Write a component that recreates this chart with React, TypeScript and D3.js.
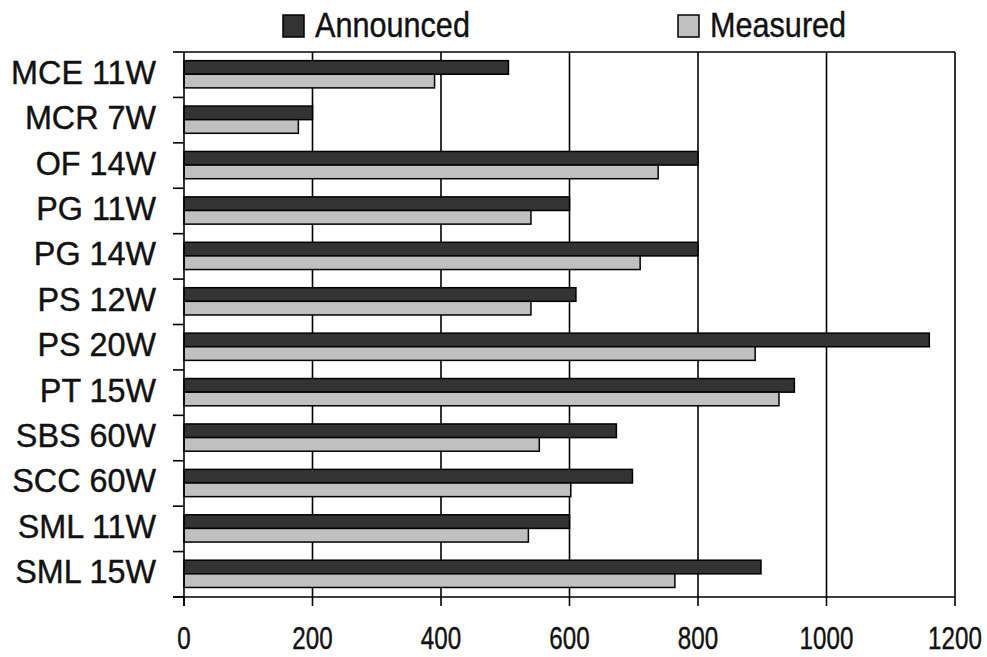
import React from "react";
import * as d3 from "d3";

const categories = ["MCE 11W", "MCR 7W", "OF 14W", "PG 11W", "PG 14W", "PS 12W", "PS 20W", "PT 15W", "SBS 60W", "SCC 60W", "SML 11W", "SML 15W"];
const announced = [505, 200, 800, 600, 800, 610, 1160, 950, 673, 698, 600, 898];
const measured = [390, 178, 738, 540, 710, 540, 889, 926, 553, 602, 536, 764];
const seriesNames = ["Announced", "Measured"];
const seriesColors = ["#333333", "#c0c0c0"];
const xTicks = [0, 200, 400, 600, 800, 1000, 1200];

const W = 987, H = 657;
const left = 184, right = 955, top = 52, bottom = 597;
const FONT = "'Liberation Sans', Arial, sans-serif";

export default function App() {
  const x = d3.scaleLinear().domain([0, 1200]).range([left, right]);
  const y = d3.scaleBand<string>().domain(categories).range([top, bottom]).padding(0);
  const bw = y.bandwidth();
  const inner = d3.scaleBand<number>().domain([0, 1]).range([bw * 0.19, bw * 0.79]).padding(0);
  const series = [announced, measured];
  const boundaries = categories.map((c) => y(c)!).concat([bottom]);

  return (
    <svg width={W} height={H} style={{ position: "absolute", left: 0, top: 0, background: "#fff" }} fontFamily={FONT}>
      {xTicks.filter((t) => t > 0).map((t) => (
        <line key={"g" + t} x1={x(t)} x2={x(t)} y1={top} y2={bottom} stroke="#000" strokeWidth={1.6} />
      ))}
      <line x1={left} x2={right} y1={top} y2={top} stroke="#000" strokeWidth={1.6} />
      {categories.map((c, i) => (
        <g key={c}>
          {series.map((s, j) => (
            <rect
              key={j}
              x={x(0)}
              y={y(c)! + inner(j)!}
              width={x(s[i]) - x(0)}
              height={inner.bandwidth()}
              fill={seriesColors[j]}
              stroke="#000"
              strokeWidth={1.5}
            />
          ))}
        </g>
      ))}
      <line x1={left} x2={left} y1={top} y2={bottom + 9} stroke="#000" strokeWidth={1.6} />
      {boundaries.map((b, i) => (
        <line key={"yt" + i} x1={left - 11} x2={left} y1={b} y2={b} stroke="#000" strokeWidth={1.6} />
      ))}
      {categories.map((c) => (
        <text
          key={"l" + c}
          transform={`translate(156,${y(c)! + bw / 2 + 9}) scale(0.98,1)`}
          textAnchor="end"
          fontSize={33}
          fill="#111"
          stroke="#111"
          strokeWidth={0.4}
        >
          {c}
        </text>
      ))}
      <line x1={left - 11} x2={right} y1={bottom} y2={bottom} stroke="#000" strokeWidth={1.6} />
      {xTicks.map((t) => (
        <g key={"xt" + t}>
          <line x1={x(t)} x2={x(t)} y1={bottom} y2={bottom + 9} stroke="#000" strokeWidth={1.6} />
          <text
            transform={`translate(${x(t)},649) scale(0.78,1)`}
            textAnchor="middle"
            fontSize={31}
            fill="#111"
            stroke="#111"
            strokeWidth={0.4}
          >
            {t}
          </text>
        </g>
      ))}
      {seriesNames.map((n, j) => {
        const lx = j === 0 ? 283 : 678;
        return (
          <g key={n}>
            <rect x={lx} y={15} width={21} height={22} fill={seriesColors[j]} stroke="#000" strokeWidth={1.5} />
            <text
              transform={`translate(${lx + 32},37) scale(0.875,1)`}
              fontSize={35}
              fill="#111"
              stroke="#111"
              strokeWidth={0.4}
            >
              {n}
            </text>
          </g>
        );
      })}
    </svg>
  );
}
